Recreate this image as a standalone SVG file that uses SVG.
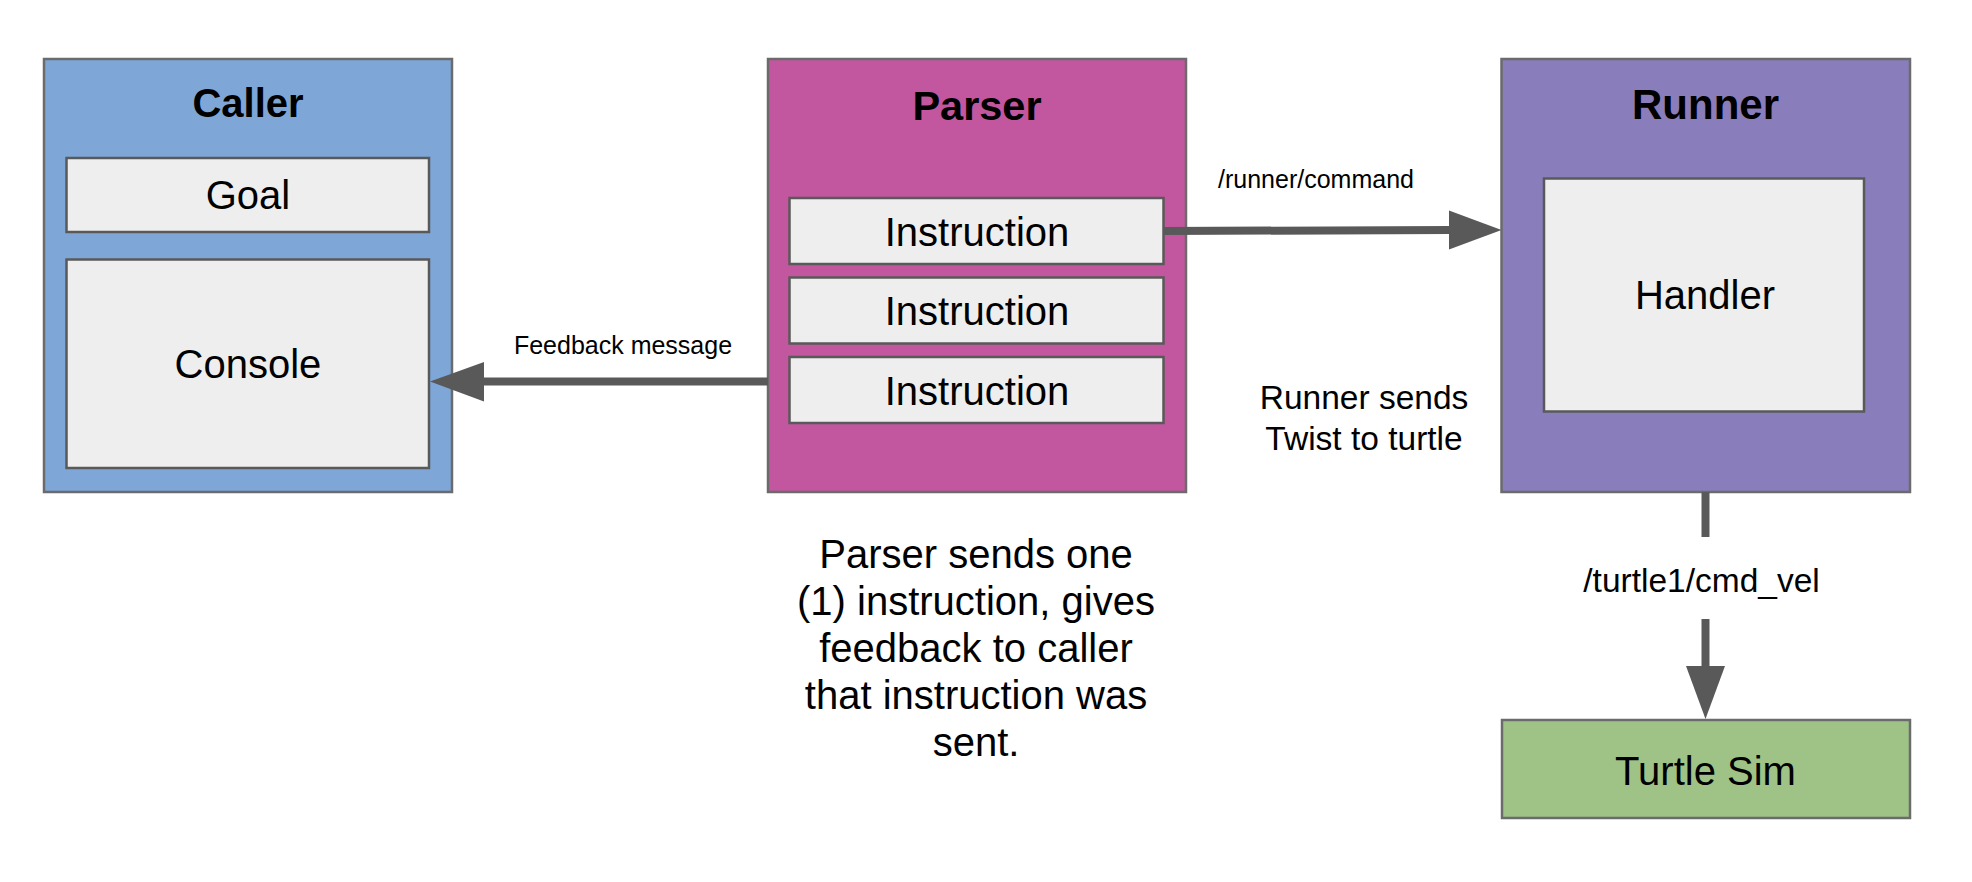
<svg xmlns="http://www.w3.org/2000/svg" width="1972" height="882" viewBox="0 0 1972 882">
<style>
.outer{stroke:#6b6b6b;stroke-width:2.5}
.inner{fill:#eeeeee;stroke:#595959;stroke-width:2.5}
.t{font-family:"Liberation Sans",Arial,sans-serif;fill:#000;text-anchor:middle}
.title{font-size:40px;font-weight:bold}
.lbl{font-size:40px}
.small{font-size:25px}
.mid{font-size:33.5px}
.conn{stroke:#595959;stroke-width:8;fill:none}
.head{fill:#595959}
</style>
<rect width="1972" height="882" fill="#ffffff"/>
<g id="caller">
<rect class="outer" x="44" y="59" width="408" height="433" fill="#7ea7d8"/>
<text class="t title" x="248" y="117">Caller</text>
<g id="goal"><rect class="inner" x="66.5" y="158" width="362.5" height="74"/><text class="t lbl" x="248" y="209">Goal</text></g>
<g id="console"><rect class="inner" x="66.5" y="259.5" width="362.5" height="208.5"/><text class="t lbl" x="248" y="378">Console</text></g>
</g>
<g id="parser">
<rect class="outer" x="768" y="59" width="418" height="433" fill="#c2579f"/>
<text class="t title" x="977" y="120" style="font-size:41.5px">Parser</text>
<g id="instruction1"><rect class="inner" x="789.5" y="198" width="374" height="66"/><text class="t lbl" x="977" y="246">Instruction</text></g>
<g id="instruction2"><rect class="inner" x="789.5" y="277.5" width="374" height="66"/><text class="t lbl" x="977" y="325">Instruction</text></g>
<g id="instruction3"><rect class="inner" x="789.5" y="357" width="374" height="66"/><text class="t lbl" x="977" y="405">Instruction</text></g>
</g>
<g id="runner">
<rect class="outer" x="1501.5" y="59" width="408.5" height="433" fill="#8a7dbb"/>
<text class="t title" x="1705.5" y="119" style="font-size:42px">Runner</text>
<g id="handler"><rect class="inner" x="1544" y="178.5" width="320" height="233"/><text class="t lbl" x="1705" y="309">Handler</text></g>
</g>
<g id="turtlesim">
<rect class="outer" x="1502" y="720" width="408" height="98" fill="#9fc386"/>
<text class="t lbl" x="1705.5" y="785">Turtle Sim</text>
</g>
<g id="connectors">
<g id="feedback">
<path class="conn" d="M768 381.5 H482"/>
<path class="head" d="M430 381.5 L484 362 L484 401.5 Z"/>
<text class="t small" x="623" y="354">Feedback message</text>
</g>
<g id="command">
<path class="conn" d="M1164 231 L1451 230"/>
<path class="head" d="M1501.5 230 L1449 210.5 L1449 249.5 Z"/>
<text class="t small" x="1316" y="188">/runner/command</text>
</g>
<g id="cmdvel">
<path class="conn" d="M1705.5 492 V537"/>
<path class="conn" d="M1705.5 619 V668"/>
<path class="head" d="M1705.5 719 L1686 666 L1725 666 Z"/>
<text class="t mid" x="1701.5" y="592">/turtle1/cmd_vel</text>
</g>
</g>
<g id="notes">
<text class="t mid" x="1364" y="409">Runner sends</text>
<text class="t mid" x="1364" y="450">Twist to turtle</text>
<text class="t lbl" x="976" y="568">Parser sends one</text>
<text class="t lbl" x="976" y="615">(1) instruction, gives</text>
<text class="t lbl" x="976" y="662">feedback to caller</text>
<text class="t lbl" x="976" y="709">that instruction was</text>
<text class="t lbl" x="976" y="756">sent.</text>
</g>
</svg>
